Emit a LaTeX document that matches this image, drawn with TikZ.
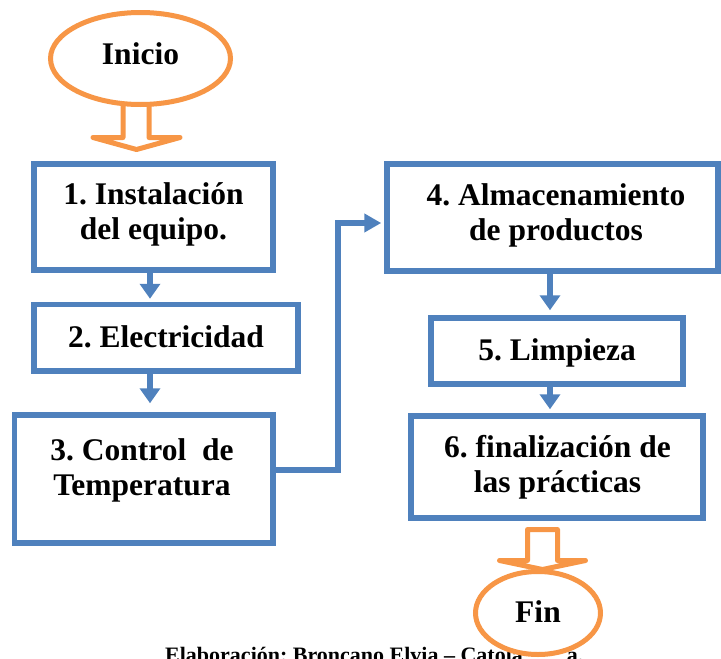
\documentclass[tikz,border=0pt]{standalone}
\usepackage{fontspec}
\setmainfont{Liberation Serif}
\usetikzlibrary{arrows.meta,shapes.geometric,calc}
\definecolor{flowblue}{HTML}{4F81BD}
\definecolor{floworange}{HTML}{F79646}
\frenchspacing
\begin{document}
\begin{tikzpicture}[x=1pt,y=-1pt,
  box/.style={draw=flowblue, line width=5.5pt, fill=white, rectangle, inner sep=0pt},
  txt/.style={font=\fontsize{31.5}{35}\selectfont\bfseries\frenchspacing, inner sep=0pt, anchor=base},
  arr/.style={draw=flowblue, line width=5.5pt, -{Triangle[width=20pt,length=15pt]}},
  term/.style={ellipse, draw=floworange, line width=5pt, fill=white, inner sep=0pt,
    font=\fontsize{31.5}{35}\selectfont\bfseries},
  blockarrow/.style={draw=floworange, line width=5pt, fill=white, line join=round}]
\useasboundingbox (0,0) rectangle (721,659);

% start
\draw[blockarrow] (123,95) -- (123,137.5) -- (93,137.5) -- (136.5,149.5) -- (180,137.5)
  -- (149,137.5) -- (149,95) -- cycle;
\node[term, minimum width=180pt, minimum height=92pt, text height=21.4pt, text depth=10pt]
  (inicio) at (140.5,58.5) {Inicio};

% boxes
\node[box, minimum width=239pt, minimum height=106pt] (b1) at (153.5,217) {};
\node[box, minimum width=264pt, minimum height=66.5pt] (b2) at (166,337.75) {};
\node[box, minimum width=258.5pt, minimum height=128pt] (b3) at (143.75,479) {};
\node[box, minimum width=331pt, minimum height=107pt] (b4) at (552.5,217.5) {};
\node[box, minimum width=252pt, minimum height=66pt] (b5) at (557,351) {};
\node[box, minimum width=292pt, minimum height=102pt] (b6) at (557,467) {};

% texts
\node[txt] (t1) at (153.5,204) {\begin{tabular}[t]{@{}c@{}}1. Instalación\\del equipo.\end{tabular}};
\node[txt] (t2) at (166,347) {2. Electricidad};
\node[txt] (t3) at (142,460) {\begin{tabular}[t]{@{}c@{}}3. Control\ \ de\\Temperatura\end{tabular}};
\node[txt] (t4) at (556,205) {\begin{tabular}[t]{@{}c@{}}4. Almacenamiento\\de productos\end{tabular}};
\node[txt] (t5) at (557,360) {5. Limpieza};
\node[txt] (t6) at (557.5,457) {\begin{tabular}[t]{@{}c@{}}6. finalización de\\las prácticas\end{tabular}};

% connectors
\draw[arr, shorten >=3pt] ([xshift=-3.5pt]b1.south) -- ([xshift=-3.5pt]b1.south |- b2.north);
\draw[arr, shorten >=9pt] ([xshift=-16pt]b2.south) -- ([xshift=-16pt]b2.south |- b3.north);
\draw[arr, shorten >=5pt] ([xshift=-2.5pt]b4.south) -- ([xshift=-2.5pt]b4.south |- b5.north);
\draw[arr, shorten >=4pt] ([xshift=-7pt]b5.south) -- ([xshift=-7pt]b5.south |- b6.north);
\coordinate (A) at ([yshift=9pt]b3.east);
\coordinate (B) at ([yshift=-5.5pt]b4.west);
\coordinate (bendx) at (338,0);
\draw[draw=flowblue, line width=5.5pt, -{Triangle[width=18pt,length=17pt]}, shorten >=3pt, line join=miter]
  (A) -- (A -| bendx) -- (bendx |- B) -- (B);

% caption and end
\node[font=\fontsize{22}{24}\selectfont\bfseries\frenchspacing, anchor=base west, inner sep=0pt] (cap)
  at (165,662.5) {Elaboración: Broncano Elvia – Catola\hspace{44pt}a.};
\node[term, minimum width=125pt, minimum height=83pt, text height=21.4pt, text depth=3pt]
  (fin) at (538,613) {Fin};
\draw[blockarrow] (527.5,529.5) -- (527.5,560.5) -- (499.5,560.5) -- (542.5,569.5)
  -- (585.5,560.5) -- (557.5,560.5) -- (557.5,529.5) -- cycle;
\end{tikzpicture}
\end{document}
